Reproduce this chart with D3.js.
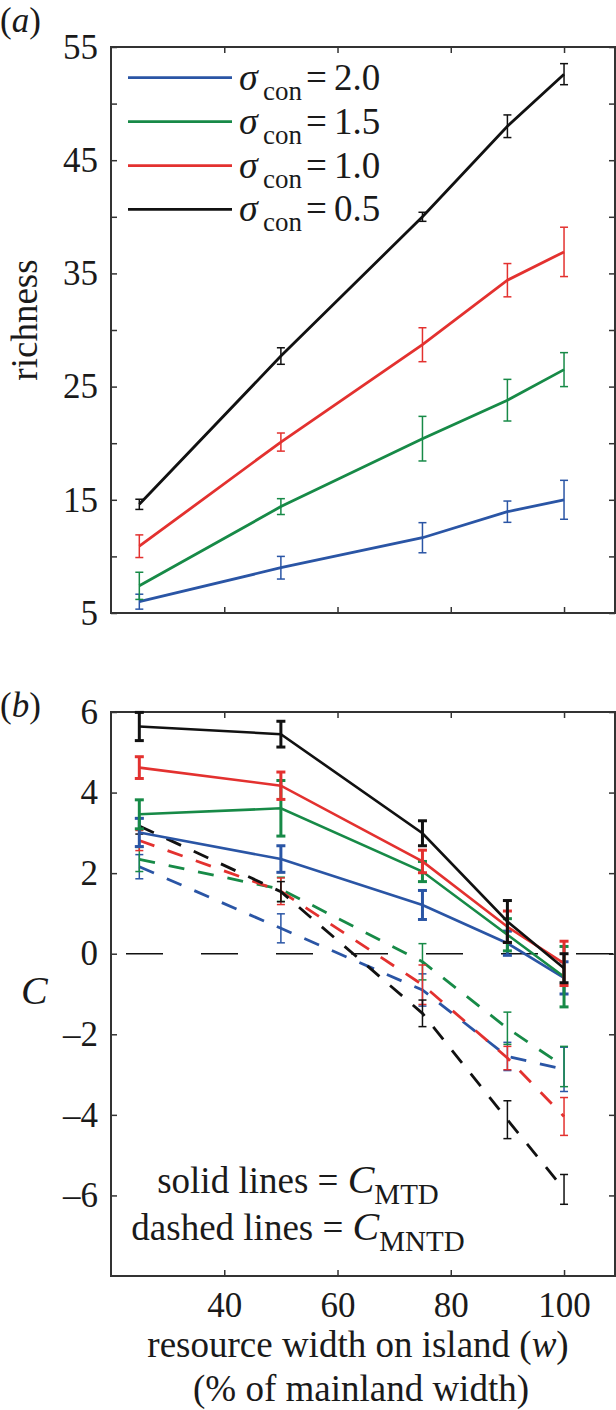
<!DOCTYPE html>
<html>
<head>
<meta charset="utf-8">
<script src="https://cdn.jsdelivr.net/npm/d3@7"></script>
<style>
  html, body { margin: 0; padding: 0; background: #fff; }
  svg { display: block; }
</style>
</head>
<body>
<svg id="chart" width="616" height="1410" font-family="Liberation Serif"></svg>
<script>
// ---------- data ----------
const widths = [25, 50, 75, 90, 100];
const sigmaLabels = ["2.0", "1.5", "1.0", "0.5"];
const xTicks = [40, 60, 80, 100];
const richTicks = [5, 10, 15, 20, 25, 30, 35, 40, 45, 50, 55];
const richTickLabels = [5, 15, 25, 35, 45, 55];
const cTicks = [-6, -4, -2, 0, 2, 4, 6];

// panel (a): richness
const richBlue = [6.0, 9.0, 11.65, 13.95, 15.0];
const richBlueErr = [0.66, 1.0, 1.33, 0.94, 1.72];
const richGreen = [7.4, 14.4, 20.4, 23.8, 26.5];
const richGreenErr = [1.2, 0.7, 1.97, 1.84, 1.5];
const richRed = [10.9, 20.1, 28.7, 34.4, 36.9];
const richRedErr = [1.0, 0.8, 1.5, 1.47, 2.18];
const richBlack = [14.6, 27.7, 40.0, 48.0, 52.6];
const richBlackErr = [0.45, 0.73, 0.4, 1.0, 0.93];

// panel (b): C_MTD (solid)
const mtdBlue = [3.01, 2.35, 1.21, 0.26, -0.6];
const mtdBlueErr = [0.35, 0.33, 0.36, 0.3, 0.4];
const mtdGreen = [3.46, 3.61, 2.04, 0.47, -0.57];
const mtdGreenErr = [0.36, 0.69, 0.25, 0.4, 0.75];
const mtdRed = [4.62, 4.17, 2.29, 0.67, -0.24];
const mtdRedErr = [0.27, 0.34, 0.28, 0.39, 0.55];
const mtdBlack = [5.64, 5.45, 2.99, 0.80, -0.36];
const mtdBlackErr = [0.35, 0.32, 0.31, 0.52, 0.36];

// panel (b): C_MNTD (dashed)
const mntdBlue = [2.16, 0.63, -0.9, -2.55, -2.87];
const mntdBlueErr = [0.3, 0.36, 0.4, 0.35, 0.55];
const mntdGreen = [2.34, 1.6, -0.2, -1.85, -2.8];
const mntdGreenErr = [0.3, 0.3, 0.45, 0.4, 0.5];
const mntdRed = [2.81, 1.55, -0.77, -2.59, -4.04];
const mntdRedErr = [0.25, 0.33, 0.49, 0.29, 0.47];
const mntdBlack = [3.17, 1.54, -1.48, -4.12, -5.85];
const mntdBlackErr = [0.2, 0.25, 0.33, 0.47, 0.37];

const colors = ["#2a55a5", "#178a47", "#e3312f", "#111111"];

// ---------- layout ----------
const FONT = "Liberation Serif";
const TXT = "#1a1a1a";
const svg = d3.select("#chart");
svg.append("rect").attr("width", 616).attr("height", 1410).attr("fill", "#fff");

function addText(parent, xx, yy, size) {
  return parent.append("text").attr("x", xx).attr("y", yy)
    .attr("font-family", FONT).attr("font-size", size).attr("fill", TXT);
}

const left = 111, right = 615;
const x = d3.scaleLinear().domain([20, 109]).range([left, right]);
const ya = d3.scaleLinear().domain([5, 55]).range([613, 47]);
const yb = d3.scaleLinear().domain([-8, 6]).range([1276, 712]);

const axisColor = "#333";

function drawFrame(y, leftTicks, leftFmt, bottomLabels) {
  const g = svg.append("g");
  const [y0, y1] = y.range();
  const tk = 6;
  const gl = g.append("g").attr("transform", `translate(${left},0)`)
    .call(d3.axisLeft(y).tickValues(leftTicks).tickSize(-tk).tickPadding(13).tickFormat(leftFmt));
  const gr = g.append("g").attr("transform", `translate(${right},0)`)
    .call(d3.axisRight(y).tickValues(leftTicks).tickSize(-tk).tickFormat(""));
  const gt = g.append("g").attr("transform", `translate(0,${y1})`)
    .call(d3.axisTop(x).tickValues(xTicks).tickSize(-tk).tickFormat(""));
  const gb = g.append("g").attr("transform", `translate(0,${y0})`)
    .call(d3.axisBottom(x).tickValues(xTicks).tickSize(-tk).tickPadding(16)
      .tickFormat(bottomLabels ? d3.format("d") : ""));
  [gl, gr, gt, gb].forEach(a => {
    a.attr("font-family", FONT).attr("font-size", 35);
    a.select(".domain").remove();
    a.selectAll(".tick line").attr("stroke", axisColor).attr("stroke-width", 1.5);
    a.selectAll(".tick text").attr("font-family", FONT).attr("font-size", 35).attr("fill", TXT);
    a.selectAll(".tick text").filter(function () { return this.textContent === ""; }).remove();
  });
  g.append("rect").attr("x", left).attr("y", y1).attr("width", right - left).attr("height", y0 - y1)
    .attr("fill", "none").attr("stroke", axisColor).attr("stroke-width", 2);
}

function drawSeries(y, vals, errs, color, opt) {
  const g = svg.append("g");
  const pts = widths.map((w, i) => ({ w, v: vals[i], e: errs[i] }));
  const line = d3.line().x(d => x(d.w)).y(d => y(d.v));
  g.append("path").datum(pts).attr("d", line)
    .attr("fill", "none").attr("stroke", color).attr("stroke-width", opt.lw)
    .attr("stroke-dasharray", opt.dash || null);
  const eb = g.selectAll("g.eb").data(pts).join("g");
  eb.append("line").attr("x1", d => x(d.w)).attr("x2", d => x(d.w))
    .attr("y1", d => y(d.v - d.e)).attr("y2", d => y(d.v + d.e))
    .attr("stroke", color).attr("stroke-width", opt.ew);
  [1, -1].forEach(s => {
    eb.append("line").attr("x1", d => x(d.w) - opt.cap).attr("x2", d => x(d.w) + opt.cap)
      .attr("y1", d => y(d.v + s * d.e)).attr("y2", d => y(d.v + s * d.e))
      .attr("stroke", color).attr("stroke-width", opt.ew);
  });
}

// ---------- panel (a) ----------
drawFrame(ya, richTicks, d => richTickLabels.includes(d) ? d3.format("d")(d) : "", false);
const richSeries = [
  [richBlue, richBlueErr], [richGreen, richGreenErr], [richRed, richRedErr], [richBlack, richBlackErr]
];
richSeries.forEach((s, i) => drawSeries(ya, s[0], s[1], colors[i], { lw: 2.8, ew: 1.5, cap: 4 }));

// legend
const legendY = [77.7, 121.7, 165.7, 209.3];
sigmaLabels.forEach((lab, i) => {
  const ly = legendY[i];
  svg.append("line").attr("x1", 128).attr("x2", 232).attr("y1", ly).attr("y2", ly)
    .attr("stroke", colors[i]).attr("stroke-width", 2.8);
  addText(svg, 239, ly + 12, 38).attr("font-style", "italic").text("σ");
  addText(svg, 263, ly + 22, 27).text("con");
  const t = addText(svg, 306, ly + 12, 37);
  t.append("tspan").text("=");
  t.append("tspan").attr("x", 334).text(lab);
});

const ta = addText(svg, 0, 32, 35);
ta.append("tspan").text("(");
ta.append("tspan").attr("font-style", "italic").text("a");
ta.append("tspan").text(")");
addText(svg, 0, 0, 37).attr("x", null).attr("y", null)
  .attr("transform", "translate(37,320) rotate(-90)")
  .attr("text-anchor", "middle").text("richness");

// ---------- panel (b) ----------
drawFrame(yb, cTicks, d => d < 0 ? "\u2013" + Math.abs(d) : String(d), true);

// zero reference line
svg.append("path").datum([20, 109])
  .attr("d", d3.line().x(d => x(d)).y(() => yb(0)))
  .attr("stroke", "#111").attr("stroke-width", 1.5).attr("fill", "none")
  .attr("stroke-dasharray", "37,38").attr("stroke-dashoffset", 60);

const mntdSeries = [
  [mntdBlue, mntdBlueErr], [mntdGreen, mntdGreenErr], [mntdRed, mntdRedErr], [mntdBlack, mntdBlackErr]
];
const mtdSeries = [
  [mtdBlue, mtdBlueErr], [mtdGreen, mtdGreenErr], [mtdRed, mtdRedErr], [mtdBlack, mtdBlackErr]
];
mntdSeries.forEach((s, i) => drawSeries(yb, s[0], s[1], colors[i], { lw: 2.8, ew: 1.5, cap: 4, dash: "16,14" }));
mtdSeries.forEach((s, i) => drawSeries(yb, s[0], s[1], colors[i], { lw: 2.6, ew: 3, cap: 4.5 }));

const tb = addText(svg, 0, 717, 35);
tb.append("tspan").text("(");
tb.append("tspan").attr("font-style", "italic").text("b");
tb.append("tspan").text(")");
addText(svg, 21, 1004, 40).attr("font-style", "italic").text("C");

// annotation
const notes = [["solid lines = ", "MTD", 1193], ["dashed lines = ", "MNTD", 1240]];
notes.forEach(n => {
  const t = addText(svg, 298, n[2], 37).attr("text-anchor", "middle");
  t.append("tspan").text(n[0]);
  t.append("tspan").attr("font-style", "italic").attr("font-size", 40).text("C");
  t.append("tspan").attr("font-size", 29).attr("dy", 11).text(n[1]);
});

// x label
const xl = addText(svg, 358, 1357, 37).attr("text-anchor", "middle");
xl.append("tspan").text("resource width on island (");
xl.append("tspan").attr("font-style", "italic").text("w");
xl.append("tspan").text(")");
addText(svg, 361, 1401, 37).attr("text-anchor", "middle").text("(% of mainland width)");
</script>
</body>
</html>
